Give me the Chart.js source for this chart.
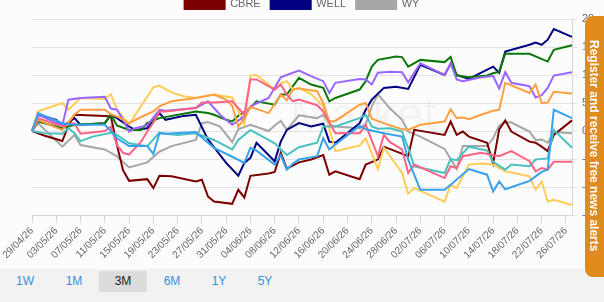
<!DOCTYPE html>
<html>
<head>
<meta charset="utf-8">
<script src="https://cdn.jsdelivr.net/npm/chart.js@4.4.1/dist/chart.umd.min.js"></script>
<style>
html,body{margin:0;padding:0;width:604px;height:302px;overflow:hidden;background:#fcfcfc;font-family:"Liberation Sans",Arial,sans-serif;}
#wrap{position:absolute;left:0;top:-12px;width:604px;height:287px;}
#bar{position:absolute;left:0;top:269px;width:604px;height:33px;background:#f2f2f2;}
.btn{position:absolute;top:2px;width:48px;height:21px;line-height:21px;font-size:12px;color:#3b8fdc;text-align:center;}
.btn.sel{background:#dcdcdc;color:#222;}
#tab{position:absolute;left:585px;top:16px;width:19px;height:261px;background:#e08b1d;border-radius:8px 0 0 8px;overflow:hidden;}
#tab span{position:absolute;left:2px;top:24px;writing-mode:vertical-rl;color:#fff;font-weight:bold;font-size:12px;white-space:nowrap;}
</style>
</head>
<body>
<div id="wrap"><canvas id="c" width="604" height="287"></canvas></div>
<div id="bar">
  <div class="btn" style="left:1px">1W</div>
  <div class="btn" style="left:50px">1M</div>
  <div class="btn sel" style="left:99px">3M</div>
  <div class="btn" style="left:148px">6M</div>
  <div class="btn" style="left:195px">1Y</div>
  <div class="btn" style="left:241px">5Y</div>
</div>
<div id="tab"><span>Register and receive free news alerts</span></div>
<script>
const n = null;
const DATES = [
"29/04/26","30/04/26",
"01/05/26","02/05/26","03/05/26","04/05/26","05/05/26","06/05/26","07/05/26","08/05/26","09/05/26","10/05/26",
"11/05/26","12/05/26","13/05/26","14/05/26","15/05/26","16/05/26","17/05/26","18/05/26","19/05/26","20/05/26",
"21/05/26","22/05/26","23/05/26","24/05/26","25/05/26","26/05/26","27/05/26","28/05/26","29/05/26","30/05/26","31/05/26",
"01/06/26","02/06/26","03/06/26","04/06/26","05/06/26","06/06/26","07/06/26","08/06/26","09/06/26","10/06/26",
"11/06/26","12/06/26","13/06/26","14/06/26","15/06/26","16/06/26","17/06/26","18/06/26","19/06/26","20/06/26",
"21/06/26","22/06/26","23/06/26","24/06/26","25/06/26","26/06/26","27/06/26","28/06/26","29/06/26","30/06/26",
"01/07/26","02/07/26","03/07/26","04/07/26","05/07/26","06/07/26","07/07/26","08/07/26","09/07/26","10/07/26",
"11/07/26","12/07/26","13/07/26","14/07/26","15/07/26","16/07/26","17/07/26","18/07/26","19/07/26","20/07/26",
"21/07/26","22/07/26","23/07/26","24/07/26","25/07/26","26/07/26","27/07/26"
];
const Y_TICKS = [-15,-10,-5,0,5,10,15,20];

const BLUE = [
0,3.2,n,n,n,1.4,n,1.1,n,n,
n,n,1.1,0.0,-1.3,n,-2.7,n,n,-2.7,
-4.1,-0.4,-0.5,n,n,n,n,-0.2,n,n,
-3.0,n,n,-4.6,n,-5.7,-3.0,-3.5,n,n,
-6.0,-4.3,-6.9,-5.8,-5.1,n,n,-4.5,-1.3,-3.3,
-2.4,n,n,n,0.9,0.3,n,n,-0.4,n,
n,-1.0,-5.1,n,-10.5,n,n,n,-10.5,-9.6,
n,n,-6.8,n,n,-7.8,-10.8,-9.0,-10.4,n,
n,n,-8.9,n,-7.3,-6.9,3.8,n,n,2.3];
const PINK = [
0,2.3,n,n,n,0.8,n,1.4,-0.5,n,
n,n,0.0,0.8,-2.5,-3.9,-4.2,n,-1.9,-0.1,
1.5,3.5,3.5,n,n,n,n,4.1,5.1,n,
5.1,n,n,5.3,n,2.9,9.2,9.2,n,n,
7.4,8.3,6.5,5.3,5.6,n,n,4.6,3.5,n,
-0.4,n,n,n,-0.4,1.1,n,-4.5,-0.7,-2.0,
n,-3.3,-7.5,-6.0,n,n,n,n,-8.4,-6.3,
-6.6,-4.5,n,n,-3.9,n,n,-4.5,n,-3.6,
n,n,-5.4,-7.2,-6.6,-6.9,-5.5,n,n,-5.5];
const TEAL = [
0,n,-0.4,n,n,-0.5,0.5,-0.4,-1.8,n,
-1.0,n,n,-0.3,-0.7,n,-2.2,n,n,-2.7,
n,-0.3,-0.5,n,-0.7,n,n,-0.4,n,n,
-1.6,n,n,-3.3,-1.6,n,0.2,n,n,n,
-2.2,n,-4.3,n,-2.9,n,n,-2.1,0.8,n,
0.8,n,n,n,2.3,2.9,0.8,0.4,n,0.5,
n,-0.1,-3.0,-6.3,n,n,n,n,-7.5,-5.0,
-5.2,n,-2.8,n,n,-3.5,-5.5,n,-6.9,-6.0,
n,n,-6.3,-5.1,n,-4.9,0.2,n,n,-3.0];
const ORANGE = [
0,2.0,n,n,0.6,0.2,n,2.9,3.8,n,
n,n,3.8,3.0,2.6,n,1.4,n,2.5,n,
3.5,4.4,n,5.3,n,n,n,5.9,n,n,
6.5,n,5.6,4.5,0.8,2.2,4.3,n,n,3.2,
n,6.5,5.5,7.4,7.6,n,n,7.1,5.0,1.7,
1.8,n,n,n,4.7,5.0,2.2,n,n,1.0,
n,0.3,0.2,n,1.1,n,n,n,1.7,3.9,
2.3,2.4,2.1,n,2.9,n,3.6,3.8,8.6,n,
n,n,6.8,8.3,5.0,5.1,7.0,n,n,6.7];
const PURPLE = [
0,2.9,n,n,n,1.0,5.6,n,5.9,n,
n,n,6.1,4.0,3.8,2.0,-0.1,0.5,n,1.0,
n,3.8,3.6,n,n,n,n,4.1,n,5.3,
n,2.9,n,1.1,n,2.6,4.4,n,n,5.9,
n,9.6,10.0,n,10.8,n,9.8,n,8.9,6.8,
8.6,n,n,n,9.3,9.2,8.3,10.4,n,10.6,
n,10.5,8.7,n,12.1,n,n,n,10.0,12.1,
9.2,8.9,n,n,9.6,n,9.8,7.6,10.5,8.6,
n,n,8.0,6.0,6.4,7.7,9.9,n,n,10.5];
const YELLOW = [
0,3.5,n,n,n,5.0,3.8,n,5.9,n,
n,n,5.7,6.6,3.8,n,1.2,n,n,n,
7.8,8.1,n,6.9,n,6.2,n,5.9,n,n,
6.5,n,n,6.0,n,1.2,9.9,10.0,n,n,
7.4,8.5,8.9,7.4,7.7,n,6.6,n,4.4,n,
-3.6,n,n,n,-2.6,-1.3,-4.0,-6.8,-3.0,-4.5,
n,-7.5,-11.2,-10.2,n,n,n,n,-12.6,-9.6,
-10.2,n,-6.0,n,-5.8,n,-6.0,n,-7.2,n,
n,n,-8.1,-10.5,-9.0,-12.6,-12.3,n,n,-13.2];
const GREEN = [
0,1.7,n,n,n,0.5,n,1.1,n,n,
n,n,1.4,2.9,1.0,n,0.2,n,0.2,1.4,
n,2.3,n,n,n,n,n,3.5,n,3.2,
2.9,n,2.0,1.7,2.7,n,4.1,5.3,n,n,
4.7,6.5,6.5,8.0,9.5,n,8.3,n,7.7,5.3,
5.9,n,n,n,7.4,8.9,11.5,12.7,n,n,
13.3,13.2,11.5,n,12.7,n,n,n,12.3,13.2,
9.9,n,9.6,n,n,9.9,10.3,10.6,13.8,n,
n,n,13.8,n,n,12.4,14.5,n,n,15.3];
const CBRE = [
0,n,-0.8,n,n,-1.8,1.0,2.9,n,n,
n,n,2.7,2.6,-2.5,-7.0,-8.9,n,n,-8.6,
-10.2,-8.0,n,-8.1,n,n,n,-9.0,-8.7,-11.7,
-12.6,n,n,-13.0,-10.5,-11.9,-8.0,n,n,-7.6,
-7.3,-3.9,-6.7,n,-5.6,n,-5.1,n,-4.3,-7.8,
-7.2,n,n,n,-8.6,-6.0,n,-5.1,-2.8,n,
n,n,-4.5,0.2,n,n,n,n,-0.7,1.7,
-0.7,-0.1,-1.0,n,n,-2.1,-5.8,0.3,1.9,-0.1,
n,n,-1.9,-2.1,-2.8,-3.6,-0.7,n,n,1.9];
const WELL = [
0,2.9,n,n,2.0,0.8,n,2.3,1.1,n,
n,n,1.4,2.9,2.3,n,0.8,0.2,n,0.5,
n,3.2,2.0,n,n,2.7,n,2.9,n,-1.5,
-2.9,n,-5.7,n,-8.0,-5.7,-4.8,-2.1,n,n,
-5.4,-1.9,0.2,n,1.4,n,0.8,n,1.3,-1.9,
-2.1,n,n,n,1.4,3.8,5.6,n,7.7,n,
7.9,n,7.5,n,11.8,n,n,n,10.0,12.0,
10.0,n,9.3,n,n,n,11.5,10.4,14.2,n,
n,n,15.4,15.8,15.4,16.3,18.2,n,n,16.8];
const WY = [
0,1.4,n,n,n,-2.8,n,-0.7,-2.5,n,
n,n,-3.3,n,-4.5,n,-6.5,n,n,-5.6,
n,-3.7,n,-2.7,n,n,n,-1.6,1.4,1.6,
n,0.8,n,-2.0,0.3,n,1.1,n,n,0.0,
1.0,1.8,0.2,n,2.8,n,n,2.3,2.9,1.1,
0.8,n,n,n,0.5,1.2,4.4,6.6,5.3,4.0,
n,2.0,-0.1,n,-1.0,n,n,n,-3.2,-5.0,
-6.8,-2.7,n,n,n,-2.7,-1.3,1.0,1.6,1.5,
n,n,-0.1,-1.6,-1.5,-2.1,-0.2,n,n,-0.4];

const SHOWN = ["CBRE","WELL","WY"];
const mk = (label, data, color) => ({label, data, borderColor: color, backgroundColor: color,
  borderWidth: 2, pointRadius: 0, pointHoverRadius: 0, tension: 0, spanGaps: true, fill: false});

const watermark = {
  id: 'watermark',
  beforeDatasetsDraw(chart) {
    const {ctx, chartArea: a} = chart;
    ctx.save();
    ctx.fillStyle = 'rgba(0,0,0,0.035)';
    ctx.font = '48px "Liberation Sans", Arial, sans-serif';
    ctx.textAlign = 'left';
    ctx.textBaseline = 'alphabetic';
    ctx.fillText('Market', a.left + 258, a.top + 112);
    ctx.restore();
  }
};

new Chart(document.getElementById('c'), {
  type: 'line',
  data: {
    labels: DATES,
    datasets: [
      mk('Series 1', BLUE, '#36a2eb'),
      mk('Series 2', PINK, '#ff6384'),
      mk('Series 3', TEAL, '#4bc0c0'),
      mk('Series 4', ORANGE, '#ff9f40'),
      mk('Series 5', PURPLE, '#9966ff'),
      mk('Series 6', YELLOW, '#ffcd56'),
      mk('Series 7', GREEN, '#0b770b'),
      mk('CBRE', CBRE, '#7a0000'),
      mk('WELL', WELL, '#000080'),
      mk('WY', WY, '#a6a6a6')
    ]
  },
  plugins: [watermark],
  options: {
    responsive: false,
    animation: false,
    devicePixelRatio: 1,
    layout: {padding: 0},
    plugins: {
      tooltip: {enabled: false},
      legend: {
        display: true,
        position: 'top',
        labels: {
          boxWidth: 40, boxHeight: 11, padding: 10, color: '#666',
          font: {size: 11, family: '"Liberation Sans", Arial, sans-serif'},
          filter: (item) => SHOWN.includes(item.text)
        }
      }
    },
    scales: {
      x: {
        type: 'category',
        ticks: {
          autoSkip: false, maxRotation: 45, minRotation: 45, color: '#666', padding: 2,
          font: {size: 10, family: '"Liberation Sans", Arial, sans-serif'},
          callback: (v, i) => (i % 4 === 0 ? DATES[i] : null)
        },
        grid: {drawOnChartArea: false, drawTicks: true, tickLength: 8, color: '#d6d6d6'},
        border: {display: true, color: '#d6d6d6'},
        afterFit(s) { s.height = 60; s.paddingLeft = 32; s.paddingRight = 0; }
      },
      y: {
        position: 'right',
        min: -15, max: 20,
        afterBuildTicks(s) { s.ticks = Y_TICKS.map(v => ({value: v})); },
        ticks: {color: '#666', padding: 5, font: {size: 11, family: '"Liberation Sans", Arial, sans-serif'}},
        grid: {color: '#e2e2e2', tickLength: 5, drawTicks: true},
        border: {display: true, color: '#d6d6d6'},
        afterFit(s) { s.width = 32; s.paddingTop = 0; s.paddingBottom = 0; }
      }
    }
  }
});
</script>
</body>
</html>
